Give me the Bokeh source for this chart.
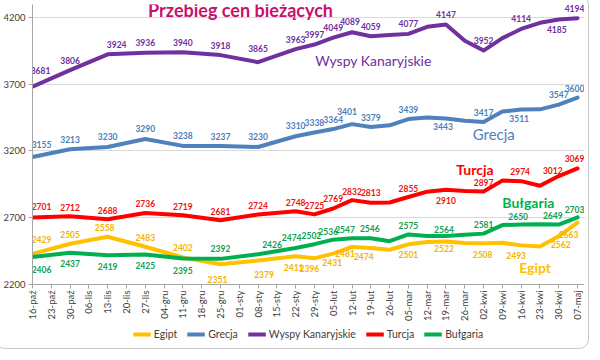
import math
from bokeh.plotting import figure
from bokeh.layouts import column
from bokeh.models import Range1d, FixedTicker, Legend, LegendItem, Label, ColumnDataSource
from bokeh.core.properties import value
from bokeh.embed import file_html
from bokeh.resources import INLINE

N = None
weeks = ["16-paź", "23-paź", "30-paź", "06-lis", "13-lis", "20-lis", "27-lis", "04-gru",
         "11-gru", "18-gru", "25-gru", "01-sty", "08-sty", "15-sty", "22-sty", "29-sty",
         "05-lut", "12-lut", "19-lut", "26-lut", "05-mar", "12-mar", "19-mar", "26-mar",
         "02-kwi", "09-kwi", "16-kwi", "23-kwi", "30-kwi", "07-maj"]

egipt = [2429, N, 2505, N, 2558, N, 2483, N, 2402, N, 2351, N, 2379, N, 2411, 2396, 2431, 2481,
         2474, 2460, 2501, 2518, 2522, 2510, 2508, 2512, 2493, 2485, 2562, 2663]
grecja = [3155, N, 3213, N, 3230, N, 3290, N, 3238, N, 3237, N, 3230, N, 3310, 3338, 3364, 3401,
          3379, 3392, 3439, 3450, 3443, 3426, 3417, 3495, 3511, 3512, 3547, 3600]
wyspy = [3681, N, 3806, N, 3924, N, 3936, N, 3940, N, 3918, N, 3865, N, 3963, 3997, 4049, 4089,
         4059, 4068, 4077, 4130, 4147, 4025, 3952, 4045, 4114, 4160, 4185, 4194]
turcja = [2701, N, 2712, N, 2688, N, 2736, N, 2719, N, 2681, N, 2724, N, 2748, 2725, 2769, 2832,
          2813, 2814, 2855, 2895, 2910, 2900, 2897, 2978, 2974, 2940, 3012, 3069]
bulgaria = [2406, N, 2437, N, 2419, N, 2425, N, 2395, N, 2392, N, 2426, N, 2474, 2502, 2536, 2547,
            2546, 2524, 2575, 2563, 2564, 2572, 2581, 2645, 2650, 2652, 2649, 2703]

# weeks whose value carries no data label in the original
unlabeled_weeks = [19, 21, 23, 25, 27]

y_ticks = [2200, 2700, 3200, 3700, 4200]

series_names = ["Egipt", "Grecja", "Wyspy Kanaryjskie", "Turcja", "Bułgaria"]
series_values = [egipt, grecja, wyspy, turcja, bulgaria]
line_colors = ["#FFC000", "#4F81BD", "#7030A0", "#FF0000", "#00B050"]
text_colors = ["#F2B400", "#4A7EBB", "#7030A0", "#F01010", "#10A050"]

# label offsets (dx right, dy up) in pixels
default_off = {
    "Egipt": lambda i: (0, 9) if i <= 8 else (0, -10),
    "Grecja": lambda i: (0, 10),
    "Wyspy Kanaryjskie": lambda i: (0, 10),
    "Turcja": lambda i: (0, 9),
    "Bułgaria": lambda i: (0, -11) if i <= 8 else (0, 9),
}
override_off = {
    "Egipt": {0: (9, 14), 4: (-3, 9), 8: (0, 10), 10: (-3, -15), 12: (6, -14), 14: (-2, -11),
              15: (-5, -10), 16: (-1, -9), 17: (-7, -7), 18: (-7, -9), 22: (-2, -7),
              24: (-1, -11), 26: (-5, -10), 28: (2, -8), 29: (-9, -12)},
    "Grecja": {0: (9, 12), 14: (0, 11), 17: (-5, 13), 22: (-3, -8), 26: (-2, -9), 29: (-3, 9)},
    "Wyspy Kanaryjskie": {0: (8, 16), 4: (9, 10), 12: (0, 14), 17: (-2, 11), 28: (-2, -10),
                          29: (-3, 10)},
    "Turcja": {0: (9, 11), 16: (0, 10), 18: (0, 10), 22: (0, -11), 26: (-1, 10), 28: (-6, 6),
               29: (-3, 10)},
    "Bułgaria": {0: (9, -13), 8: (0, -12), 10: (0, 10), 12: (14, 10), 14: (-4, 10), 15: (-3, 9),
                 16: (-5, 8.5), 17: (-7, 8.5), 18: (-1, 10), 22: (-2, 6), 26: (-3, 8),
                 28: (-6, 9), 29: (-3, 8)},
}

FONT = "Lato"

p = figure(width=584, height=324, output_backend="svg", toolbar_location=None,
           x_range=Range1d(0, 29.37), y_range=Range1d(2200, 4297),
           min_border_left=27, min_border_right=0, min_border_top=4, min_border_bottom=39,
           background_fill_color="white", border_fill_color="white")
p.outline_line_color = None

# axes
p.yaxis.ticker = FixedTicker(ticks=y_ticks)
p.yaxis.major_label_text_font = FONT
p.yaxis.major_label_text_font_size = "9.5px"
p.yaxis.major_label_text_color = "#404040"
p.yaxis.axis_line_color = "#A6A6A6"
p.yaxis.major_tick_line_color = "#A6A6A6"
p.yaxis.major_tick_out = 4
p.yaxis.major_tick_in = 0
p.yaxis.minor_tick_line_color = None
p.yaxis.major_label_standoff = 3

p.xaxis.ticker = FixedTicker(ticks=list(range(len(weeks))))
p.xaxis.major_label_overrides = {i: w for i, w in enumerate(weeks)}
p.xaxis.major_label_orientation = math.pi / 2
p.xaxis.major_label_text_font = FONT
p.xaxis.major_label_text_font_size = "9.5px"
p.xaxis.major_label_text_color = "#404040"
p.xaxis.axis_line_color = "#A6A6A6"
p.xaxis.major_tick_line_color = "#A6A6A6"
p.xaxis.major_tick_out = 4
p.xaxis.major_tick_in = 0
p.xaxis.minor_tick_line_color = None
p.xaxis.major_label_standoff = 2

p.xgrid.visible = False
p.ygrid.ticker = FixedTicker(ticks=y_ticks)
p.ygrid.grid_line_color = "#D9D9D9"

for name, vals, lc, tc in zip(series_names, series_values, line_colors, text_colors):
    xs = [i for i, v in enumerate(vals) if v is not None]
    ys = [v for v in vals if v is not None]
    p.line(xs, ys, line_color=lc, line_width=4, line_join="round", line_cap="round")
    lx, ly, lt, dxs, dys = [], [], [], [], []
    for i, v in zip(xs, ys):
        if i in unlabeled_weeks:
            continue
        dx, dy = override_off[name].get(i, default_off[name](i))
        lx.append(i)
        ly.append(v)
        lt.append(str(v))
        dxs.append(dx)
        dys.append(-dy)
    src = ColumnDataSource(dict(x=lx, y=ly, text=lt, dx=dxs, dy=dys))
    p.text(x="x", y="y", text="text", x_offset="dx", y_offset="dy", source=src,
           text_font=value(FONT), text_font_style="bold", text_font_size="8.5px",
           text_color=tc, text_align="center", text_baseline="middle")

# series name annotations
annots = [
    ("Wyspy Kanaryjskie", 18.14, 3881, "#7030A0", "normal", "14px"),
    ("Grecja", 24.54, 3328, "#4F81BD", "normal", "15px"),
    ("Turcja", 23.54, 3065, "#FF0000", "bold", "14px"),
    ("Bułgaria", 26.38, 2811, "#00B050", "bold", "14px"),
    ("Egipt", 26.74, 2325, "#FFC000", "bold", "14px"),
]
for t, x, y, c, st, fs in annots:
    p.add_layout(Label(x=x, y=y, text=t, text_color=c, text_font=FONT, text_font_style=st,
                       text_font_size=fs, text_align="center", text_baseline="middle"))

# title
p.add_layout(Label(x=11.07, y=4258, text="Przebieg cen bieżących", text_color="#C8106E",
                   text_font=FONT, text_font_style="bold", text_font_size="18px",
                   text_align="center", text_baseline="middle"))

# legend strip below the chart (renderers hold no visible data, only legend swatches)
lg = figure(width=584, height=20, output_backend="svg", toolbar_location=None,
            x_axis_type=None, y_axis_type=None, x_range=Range1d(0, 1), y_range=Range1d(0, 1),
            min_border_left=0, min_border_right=0, min_border_top=0, min_border_bottom=0,
            background_fill_color="white", border_fill_color="white")
lg.outline_line_color = None
lg.grid.visible = False
items = []
for name, lc in zip(series_names, line_colors):
    r = lg.line(x=[float("nan")], y=[float("nan")], line_color=lc, line_width=4)
    items.append(LegendItem(label=name, renderers=[r], index=0))
legend = Legend(items=items, orientation="horizontal", location="center",
                label_text_font=FONT, label_text_font_size="10.5px", label_text_color="#404040",
                glyph_width=18, glyph_height=10, label_standoff=3, spacing=10,
                padding=2, margin=0, border_line_color=None, background_fill_alpha=0)
lg.add_layout(legend)

layout = column(p, lg, spacing=0)
layout.styles = {"outline": "1px solid #C8C8C8", "outline-offset": "4px", "border-radius": "5px"}

open("out.html", "w").write(file_html(layout, INLINE))
